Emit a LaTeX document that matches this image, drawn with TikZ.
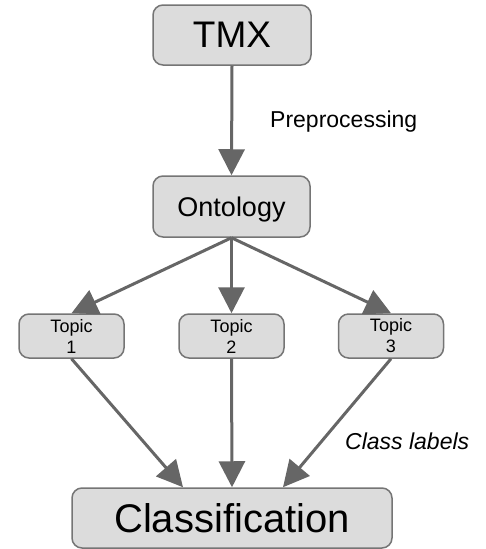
\documentclass[tikz,border=0pt]{standalone}
\usepackage{fontspec}
\setmainfont{Liberation Sans}
\usetikzlibrary{arrows.meta}
\definecolor{edgegray}{HTML}{666666}
\definecolor{boxgray}{HTML}{DCDCDC}
\tikzset{
  box/.style={draw=edgegray!90, fill=boxgray, line width=1.5pt, rounded corners=10pt, inner sep=0pt},
  bigbox/.style={box, text depth=0pt},
  topicbox/.style={box, minimum width=105pt, minimum height=44pt, align=center, font=\fontsize{18}{21}\selectfont},
  flow/.style={draw=edgegray, line width=3pt, -{Triangle[length=26pt,width=26pt]}},
  lbl/.style={font=\fontsize{23}{26}\selectfont, anchor=base west, inner sep=0pt},
}

\begin{document}
\begin{tikzpicture}[x=1pt,y=1pt]
	\useasboundingbox (0,0) rectangle (486,-549);
	% boxes
	\node[bigbox, minimum width=158pt, minimum height=60pt, font=\fontsize{37}{40}\selectfont] (tmx) at (232,-35) {TMX};
	\node[bigbox, minimum width=157pt, minimum height=61pt, font=\fontsize{27}{30}\selectfont] (ont) at (231.5,-206.5) {Ontology};
	\node[topicbox] (t1) at (71.5,-336) {Topic\\1};
	\node[topicbox] (t2) at (231.5,-336) {Topic\\2};
	\node[topicbox] (t3) at (391,-336) {Topic\\3};
	\node[bigbox, minimum width=320pt, minimum height=60pt, font=\fontsize{40}{44}\selectfont] (cls) at (232,-518) {Classification};
	% labels
	\node[lbl] (pre) at (270,-127) {Preprocessing};
	\node[lbl, font=\fontsize{23}{26}\selectfont\itshape] (clab) at (345,-449) {Class labels};
	% arrows
	\draw[flow] (tmx.south) -- (ont.north);
	\draw[flow] (ont.south) -- (t1.north);
	\draw[flow] (ont.south) -- (t2.north);
	\draw[flow] (ont.south) -- (t3.north);
	\draw[flow] (t1.south) -- ([xshift=-49pt]cls.north);
	\draw[flow] (t2.south) -- (cls.north);
	\draw[flow] (t3.south) -- ([xshift=51pt]cls.north);
\end{tikzpicture}
\end{document}
